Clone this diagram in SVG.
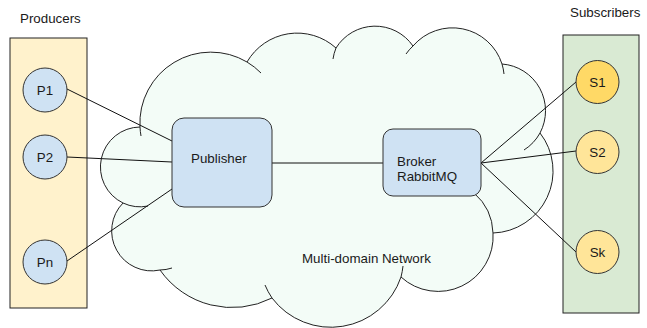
<svg xmlns="http://www.w3.org/2000/svg" width="647" height="328" viewBox="0 0 647 328">
  <style>
    text { font-family: "Liberation Sans", Arial, sans-serif; font-size: 13.33px; fill: #1a1a1a; }
    .lane { stroke: #222; stroke-width: 1; }
    .prod { fill: #cfe2f3; stroke: #333; stroke-width: 1; }
    .sub  { stroke: #333; stroke-width: 1; }
    .box  { fill: #cfe2f3; stroke: #333; stroke-width: 1; }
    .edge { stroke: #111; stroke-width: 1; fill: none; }
    .cloud { fill: #f3fcf7; stroke: #222; stroke-width: 1; }
    .curl { fill: none; stroke: #222; stroke-width: 1; }
    .mid { text-anchor: middle; }
  </style>

  <!-- side lanes -->
  <g id="producers">
    <rect class="lane" x="10" y="38" width="77" height="270" fill="#fff2cc"/>
    <text x="20" y="23">Producers</text>
  </g>
  <g id="subscribers">
    <rect class="lane" x="563" y="35" width="76" height="278" fill="#d9ead3"/>
    <text x="570" y="17">Subscribers</text>
  </g>

  <!-- network cloud -->
  <g id="network">
    <path class="cloud" d="M140 127 A71 71 0 0 1 247 62 A58 58 0 0 1 336 48 A46 46 0 0 1 413 46 A52 52 0 0 1 502 64 A47 47 0 0 1 540 133 A62 62 0 0 1 493 233 A55 55 0 0 1 401 277 A74 74 0 0 1 272 298 A88 88 0 0 1 160 270 A40 40 0 0 1 123 203 A40 40 0 0 1 140 127 Z"/>
    <path class="curl" d="M140 127 A71 71 0 0 0 141 136 M247 62 A71 71 0 0 1 261 73 M336 48 A46 46 0 0 0 333 59 M413 46 A52 52 0 0 0 406 54 M502 64 A52 52 0 0 1 504 74 M540 133 A47 47 0 0 1 524 150 M493 233 A55 55 0 0 0 474 193 M401 277 A74 74 0 0 0 403 266 M272 298 A74 74 0 0 1 265 285 M160 270 A40 40 0 0 0 172 268 M123 203 A40 40 0 0 0 148 206"/>
    <text x="302" y="263">Multi-domain Network</text>
  </g>

  <!-- connectors -->
  <g id="connectors">
    <line class="edge" x1="67" y1="89" x2="172" y2="141"/>
    <line class="edge" x1="67" y1="157" x2="172" y2="162"/>
    <line class="edge" x1="67" y1="261" x2="172" y2="189"/>
    <line class="edge" x1="272" y1="163" x2="383" y2="163"/>
    <line class="edge" x1="481" y1="163" x2="576" y2="82"/>
    <line class="edge" x1="481" y1="163" x2="576" y2="151"/>
    <line class="edge" x1="481" y1="163" x2="576" y2="252"/>
  </g>

  <!-- producers -->
  <g id="p1"><circle class="prod" cx="45" cy="90" r="22"/><text class="mid" x="45" y="95">P1</text></g>
  <g id="p2"><circle class="prod" cx="45" cy="157" r="22"/><text class="mid" x="45" y="162">P2</text></g>
  <g id="pn"><circle class="prod" cx="45" cy="262" r="22"/><text class="mid" x="45" y="267">Pn</text></g>

  <!-- core services -->
  <g id="publisher">
    <rect class="box" x="172" y="118" width="100" height="89" rx="12"/>
    <text x="191" y="163">Publisher</text>
  </g>
  <g id="broker">
    <rect class="box" x="383" y="129" width="98" height="67" rx="10"/>
    <text x="397" y="165.5">Broker</text>
    <text x="397" y="181">RabbitMQ</text>
  </g>

  <!-- subscribers -->
  <g id="s1"><circle class="sub" cx="597.5" cy="82" r="21.5" fill="#ffd966"/><text class="mid" x="597.5" y="87">S1</text></g>
  <g id="s2"><circle class="sub" cx="597.5" cy="152" r="21.5" fill="#ffe599"/><text class="mid" x="597.5" y="157">S2</text></g>
  <g id="sk"><circle class="sub" cx="597.5" cy="252" r="21.5" fill="#ffe599"/><text class="mid" x="597.5" y="257">Sk</text></g>
</svg>
